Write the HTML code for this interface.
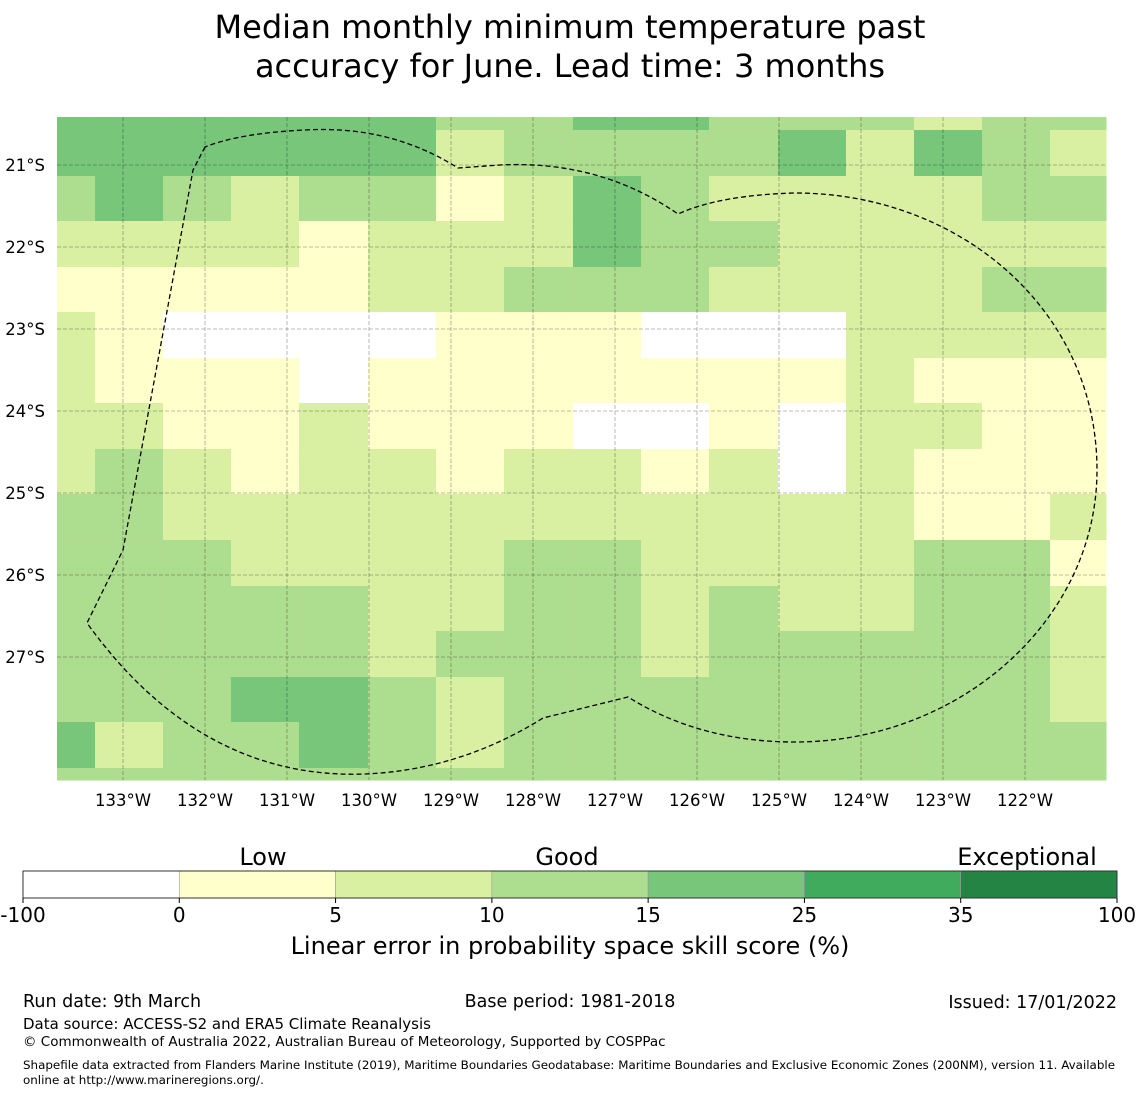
<!DOCTYPE html>
<html><head><meta charset="utf-8"><style>
body{margin:0;background:#fff;font-family:"DejaVu Sans","Liberation Sans",sans-serif;}
svg text{font-family:"DejaVu Sans","Liberation Sans",sans-serif;}
</style></head><body>
<svg id="chart" width="1140" height="1095" xmlns="http://www.w3.org/2000/svg">
<text x="570" y="38" font-size="32" text-anchor="middle">Median monthly minimum temperature past</text>
<text x="570" y="77" font-size="32" text-anchor="middle">accuracy for June. Lead time: 3 months</text>
<g id="cells"></g>
<g id="grid"></g>
<path d="M205,147 L193,170 L123,550 L87,623 Q200,780 365,774 Q460,770 543,718 L628,697 Q700,742 795,742 C960,742 1097,620 1097,470 C1097,310 960,193 795,193 Q720,195 678,214 Q600,160 500,165 L458,168 Q390,125 305,130 Q240,133 205,147 Z" fill="none" stroke="#000" stroke-width="1.3" stroke-dasharray="5,3"/>
<g id="axes"></g>
<g id="cbar"></g>
<text x="263" y="865" font-size="24" text-anchor="middle">Low</text>
<text x="567" y="865" font-size="24" text-anchor="middle">Good</text>
<text x="1027" y="865" font-size="24" text-anchor="middle">Exceptional</text>
<text x="570" y="954" font-size="24" text-anchor="middle">Linear error in probability space skill score (%)</text>
<text x="23" y="1007" font-size="17.5">Run date: 9th March</text>
<text x="570" y="1007" font-size="17.5" text-anchor="middle">Base period: 1981-2018</text>
<text x="1117" y="1008" font-size="17.5" text-anchor="end">Issued: 17/01/2022</text>
<text x="23" y="1029" font-size="15">Data source: ACCESS-S2 and ERA5 Climate Reanalysis</text>
<text x="23" y="1046" font-size="13.5">© Commonwealth of Australia 2022, Australian Bureau of Meteorology, Supported by COSPPac</text>
<text x="23" y="1069" font-size="11.9">Shapefile data extracted from Flanders Marine Institute (2019), Maritime Boundaries Geodatabase: Maritime Boundaries and Exclusive Economic Zones (200NM), version 11. Available</text>
<text x="23" y="1084" font-size="11.9">online at http://www.marineregions.org/.</text>
</svg>
<script>
const colors=["#ffffff","#ffffcc","#d9f0a3","#addd8e","#78c679","#41ab5d","#238443"];
const boundLabels=["-100","0","5","10","15","25","35","100"];
const lonTicks=[-133,-132,-131,-130,-129,-128,-127,-126,-125,-124,-123,-122];
const latTicks=[-21,-22,-23,-24,-25,-26,-27];
const colEdges=[-133.805,-133.341,-132.512,-131.683,-130.854,-130.012,-129.183,-128.354,-127.512,-126.683,-125.854,-125.012,-124.183,-123.354,-122.524,-121.695,-121.012];
const rowEdges=[-20.415,-20.573,-21.134,-21.683,-22.244,-22.793,-23.354,-23.902,-24.463,-25.012,-25.573,-26.134,-26.683,-27.244,-27.793,-28.354,-28.5];
const r0=[4,4,4,4,4,4,3,3,4,4,3,3,3,2,3,3];
const r1=[4,4,4,4,4,4,2,3,3,3,3,4,2,4,3,2];
const r2=[3,4,3,2,3,3,1,2,4,3,2,2,2,2,3,3];
const r3=[2,2,2,2,1,2,2,2,4,3,3,2,2,2,2,2];
const r4=[1,1,1,1,1,2,2,3,3,3,2,2,2,2,3,3];
const r5=[2,1,0,0,0,0,1,1,1,0,0,0,2,2,2,2];
const r6=[2,1,1,1,0,1,1,1,1,1,1,1,2,1,1,1];
const r7=[2,2,1,1,2,1,1,1,0,0,1,0,2,2,1,1];
const r8=[2,3,2,1,2,2,1,2,2,1,2,0,2,1,1,1];
const r9=[3,3,2,2,2,2,2,2,2,2,2,2,2,1,1,2];
const r10=[3,3,3,2,2,2,2,3,3,2,2,2,2,3,3,1];
const r11=[3,3,3,3,3,2,2,3,3,2,3,2,2,3,3,2];
const r12=[3,3,3,3,3,2,3,3,3,2,3,3,3,3,3,2];
const r13=[3,3,3,4,4,3,2,3,3,3,3,3,3,3,3,2];
const r14=[4,2,3,3,4,3,2,3,3,3,3,3,3,3,3,3];
const r15=[3,3,3,3,3,3,3,3,3,3,3,3,3,3,3,3];
const grid=[r0,r1,r2,r3,r4,r5,r6,r7,r8,r9,r10,r11,r12,r13,r14,r15];
const NS="http://www.w3.org/2000/svg";
const X=lon=>123+(lon+133)*82;
const Y=lat=>165+(-21-lat)*82;
function mk(t,a,p){const e=document.createElementNS(NS,t);for(const k in a)e.setAttribute(k,a[k]);p.appendChild(e);return e;}
const cellsG=document.getElementById('cells');
grid.forEach((row,i)=>row.forEach((v,j)=>{
 const x0=X(colEdges[j]),x1=X(colEdges[j+1]),y0=Y(rowEdges[i]),y1=Y(rowEdges[i+1]);
 const r=mk('rect',{x:x0,y:y0,width:x1-x0+0.5,height:y1-y0+0.5,fill:colors[v]},cellsG);
 
 
}));
const gridG=document.getElementById('grid'),axG=document.getElementById('axes');
const mapTop=Y(rowEdges[0]),mapBot=Y(rowEdges[rowEdges.length-1]),mapLeft=X(colEdges[0]),mapRight=X(colEdges[colEdges.length-1]);
lonTicks.forEach(l=>{
 const ln=mk('line',{x1:X(l),x2:X(l),y1:mapTop,y2:mapBot,stroke:"rgba(0,0,0,0.35)","stroke-width":0.8,"stroke-dasharray":"4,2"},gridG);
 
 
 const t=mk('text',{x:X(l),y:mapBot+26,"font-size":16.5,"text-anchor":"middle"},axG);t.textContent=Math.abs(l)+"°W";
 
 
});
latTicks.forEach(l=>{
 const ln=mk('line',{x1:mapLeft,x2:mapRight,y1:Y(l),y2:Y(l),stroke:"rgba(0,0,0,0.35)","stroke-width":0.8,"stroke-dasharray":"4,2"},gridG);
 
 
 const t=mk('text',{x:mapLeft-12,y:Y(l)+6,"font-size":16.5,"text-anchor":"end"},axG);t.textContent=Math.abs(l)+"°S";
 
 
});
const cb=document.getElementById('cbar');const cx0=23,cw=(1117-23)/7;
colors.forEach((c,i)=>{
 const r=mk('rect',{x:cx0+i*cw,y:871,width:cw,height:27,fill:c,stroke:"#999","stroke-width":0.6},cb);
 
 
});
mk('rect',{x:cx0,y:871,width:1094,height:27,fill:"none",stroke:"#333","stroke-width":1},cb);
boundLabels.forEach((b,i)=>{
 mk('line',{x1:cx0+i*cw,x2:cx0+i*cw,y1:898,y2:903,stroke:"#000"},cb);
 const t=mk('text',{x:cx0+i*cw,y:922,"font-size":20,"text-anchor":"middle"},cb);t.textContent=b;
 
 
});
</script>
</body></html>
